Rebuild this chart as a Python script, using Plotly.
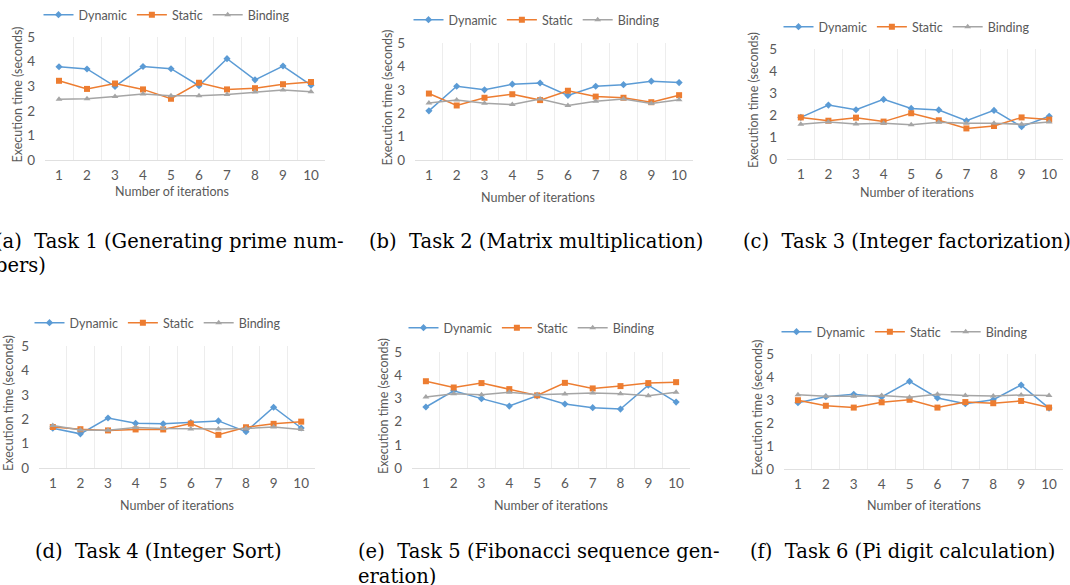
import plotly.graph_objects as go

# ---------------- data ----------------
iterations = [1, 2, 3, 4, 5, 6, 7, 8, 9, 10]
series_names = ["Dynamic", "Static", "Binding"]

task1_dynamic = [3.79, 3.70, 2.99, 3.80, 3.71, 3.02, 4.12, 3.26, 3.82, 3.04]
task1_static = [3.22, 2.89, 3.11, 2.87, 2.49, 3.14, 2.87, 2.92, 3.08, 3.17]
task1_binding = [2.47, 2.49, 2.58, 2.68, 2.61, 2.61, 2.66, 2.76, 2.85, 2.77]

task2_dynamic = [2.10, 3.15, 3.00, 3.24, 3.29, 2.76, 3.15, 3.22, 3.37, 3.31]
task2_static = [2.84, 2.33, 2.66, 2.81, 2.56, 2.96, 2.71, 2.66, 2.47, 2.77]
task2_binding = [2.44, 2.56, 2.43, 2.37, 2.61, 2.33, 2.51, 2.61, 2.41, 2.57]

task3_dynamic = [1.89, 2.45, 2.24, 2.71, 2.30, 2.23, 1.74, 2.21, 1.47, 1.94]
task3_static = [1.89, 1.74, 1.88, 1.70, 2.08, 1.76, 1.39, 1.50, 1.89, 1.79]
task3_binding = [1.58, 1.68, 1.59, 1.62, 1.56, 1.67, 1.62, 1.62, 1.58, 1.68]

task4_dynamic = [1.63, 1.40, 2.05, 1.83, 1.81, 1.86, 1.93, 1.49, 2.49, 1.64]
task4_static = [1.68, 1.59, 1.54, 1.58, 1.58, 1.82, 1.36, 1.67, 1.81, 1.90]
task4_binding = [1.74, 1.56, 1.55, 1.66, 1.62, 1.60, 1.60, 1.62, 1.68, 1.58]

task5_dynamic = [2.63, 3.33, 2.99, 2.67, 3.11, 2.76, 2.60, 2.54, 3.57, 2.84]
task5_static = [3.74, 3.47, 3.66, 3.40, 3.13, 3.67, 3.43, 3.53, 3.66, 3.70]
task5_binding = [3.06, 3.20, 3.16, 3.26, 3.16, 3.19, 3.23, 3.20, 3.11, 3.27]

task6_dynamic = [2.88, 3.14, 3.25, 3.13, 3.81, 3.09, 2.84, 3.01, 3.65, 2.65]
task6_static = [2.99, 2.75, 2.67, 2.90, 3.01, 2.67, 2.91, 2.86, 2.96, 2.67]
task6_binding = [3.23, 3.16, 3.16, 3.20, 3.12, 3.25, 3.20, 3.17, 3.22, 3.20]

y_ticks = [0, 1, 2, 3, 4, 5]
x_title = "Number of iterations"
y_title = "Execution time (seconds)"

captions = [
    ["(a)\u00a0 Task 1 (Generating prime num-", "bers)"],
    ["(b)\u00a0 Task 2 (Matrix multiplication)"],
    ["(c)\u00a0 Task 3 (Integer factorization)"],
    ["(d)\u00a0 Task 4 (Integer Sort)"],
    ["(e)\u00a0 Task 5 (Fibonacci sequence gen-", "eration)"],
    ["(f)\u00a0 Task 6 (Pi digit calculation)"],
]

tasks = [
    [task1_dynamic, task1_static, task1_binding],
    [task2_dynamic, task2_static, task2_binding],
    [task3_dynamic, task3_static, task3_binding],
    [task4_dynamic, task4_static, task4_binding],
    [task5_dynamic, task5_static, task5_binding],
    [task6_dynamic, task6_static, task6_binding],
]

# ---------------- layout / style ----------------
W, H = 1070, 585
colors = ["#5B9BD5", "#ED7D31", "#A5A5A5"]
symbols = ["diamond", "square", "triangle-up"]
msizes = [5.5, 6, 6]
grid_col = "#EDEDED"
axis_col = "#E0E0E0"
txt_col = "#595959"
chart_font = "Lato"
serif = "DejaVu Serif"

# plot boxes in pixels: (left, right, top, bottom)
boxes = [
    (45, 325, 37, 160),
    (415, 693, 43, 160),
    (787, 1063, 49, 159),
    (39, 315, 346, 468),
    (412, 690, 352, 468),
    (784, 1063, 354, 469),
]
legend_pos = [(167, 15), (537, 20), (907, 27), (158, 323), (532, 328), (905, 332)]
xtitle_pos = [(172, 192), (538, 197), (917, 193), (177, 505), (551, 505), (924, 505)]
ytitle_x = [17, 387, 753, 8, 383, 757]
caption_pos = [(-7, 241), (367, 241), (741, 241), (33, 551), (356, 551), (748, 551)]
caption_lh = 25


def px_x(v):
    return v / W


def px_y(v):
    return 1 - v / H


fig = go.Figure()
annotations = []
layout = dict(
    width=W, height=H,
    margin=dict(l=0, r=0, t=0, b=0, autoexpand=False),
    paper_bgcolor="white", plot_bgcolor="white",
    font=dict(family=chart_font, color=txt_col),
)

for i, (box, vals) in enumerate(zip(boxes, tasks)):
    n = i + 1
    sfx = "" if n == 1 else str(n)
    leg = "legend" if n == 1 else f"legend{n}"
    for s, (name, v) in enumerate(zip(series_names, vals)):
        fig.add_trace(go.Scatter(
            x=iterations, y=v, name=name, mode="lines+markers",
            line=dict(color=colors[s], width=1.5),
            marker=dict(symbol=symbols[s], size=msizes[s], color=colors[s]),
            xaxis=f"x{sfx}", yaxis=f"y{sfx}", legend=leg,
        ))
    l, r, t, b = box
    layout[f"xaxis{sfx}"] = dict(
        domain=[px_x(l), px_x(r)], anchor=f"y{sfx}",
        range=[0.5, 10.5], tickmode="array", tickvals=iterations,
        ticktext=[str(v) for v in iterations],
        showgrid=False, zeroline=False, automargin=False,
        showline=True, linecolor=axis_col, linewidth=1,
        ticks="", ticklabelstandoff=3,
        tickfont=dict(family=chart_font, size=13.5, color=txt_col),
        minor=dict(tickmode="linear", tick0=0.5, dtick=1, showgrid=True,
                   gridcolor=grid_col, gridwidth=1, ticks=""),
        fixedrange=True,
    )
    layout[f"yaxis{sfx}"] = dict(
        domain=[px_y(b), px_y(t)], anchor=f"x{sfx}",
        range=[0, 5], tickmode="array", tickvals=y_ticks,
        showgrid=False, zeroline=False, showline=False, automargin=False,
        ticks="", ticklabelstandoff=9,
        tickfont=dict(family=chart_font, size=13.5, color=txt_col),
        fixedrange=True,
    )
    lx, ly = legend_pos[i]
    layout[leg] = dict(
        orientation="h", x=px_x(lx), y=px_y(ly), xanchor="center", yanchor="middle",
        xref="paper", yref="paper",
        font=dict(family=chart_font, size=12.5, color=txt_col),
        bgcolor="rgba(0,0,0,0)", itemwidth=30, tracegroupgap=0,
        traceorder="normal",
    )
    tx, ty = xtitle_pos[i]
    annotations.append(dict(
        text=x_title, x=px_x(tx), y=px_y(ty), xref="paper", yref="paper",
        showarrow=False, xanchor="center", yanchor="middle",
        font=dict(family=chart_font, size=12.5, color=txt_col),
    ))
    annotations.append(dict(
        text=y_title, x=px_x(ytitle_x[i]), y=px_y((t + b) / 2 - 4),
        xref="paper", yref="paper", textangle=-90,
        showarrow=False, xanchor="center", yanchor="middle",
        font=dict(family=chart_font, size=12.5, color=txt_col),
    ))
    cx, cy = caption_pos[i]
    for k, line in enumerate(captions[i]):
        annotations.append(dict(
            text=line, x=px_x(cx), y=px_y(cy + k * caption_lh),
            xref="paper", yref="paper", showarrow=False,
            xanchor="left", yanchor="middle",
            font=dict(family=serif, size=19.5, color="black"),
        ))

layout["annotations"] = annotations
fig.update_layout(**layout)
fig.write_html("out.html")
